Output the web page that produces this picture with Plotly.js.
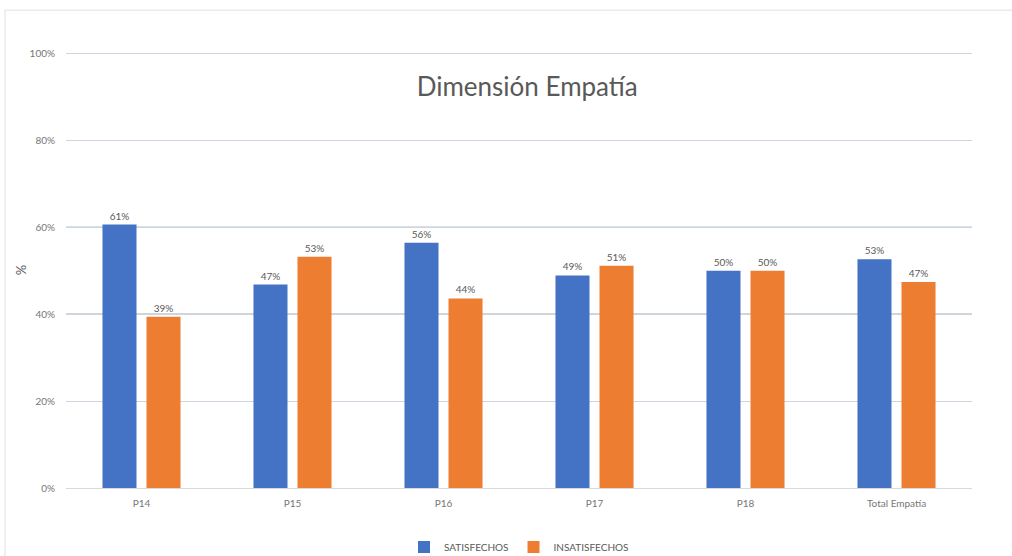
<!DOCTYPE html>
<html>
<head>
<meta charset="utf-8">
<script src="https://cdn.plot.ly/plotly-3.0.1.min.js"></script>
<style>html,body{margin:0;padding:0;background:#fff;}#chart{width:1012px;height:556px;}</style>
</head>
<body>
<div id="chart"></div>
<script>
const categories = ["P14", "P15", "P16", "P17", "P18", "Total Empatía"];
const satisfechos = [60.6, 46.8, 56.4, 48.9, 50.0, 52.6];
const insatisfechos = [39.4, 53.2, 43.6, 51.1, 50.0, 47.4];
const seriesNames = ["SATISFECHOS", "INSATISFECHOS"];
const yTickVals = [0, 20, 40, 60, 80, 100];
const yTickText = ["0%", "20%", "40%", "60%", "80%", "100%"];

const labelFont = {family: "Lato, 'Noto Sans', sans-serif", size: 10, color: "#595959"};
const tickFont = {family: "Lato, 'Noto Sans', sans-serif", size: 10, color: "#767676"};

const traces = [
  {type: "bar", name: seriesNames[0], x: categories, y: satisfechos,
   marker: {color: "#4472C4"}, texttemplate: "%{y:.0f}%", textposition: "outside",
   textfont: labelFont, cliponaxis: false, hoverinfo: "x+y"},
  {type: "bar", name: seriesNames[1], x: categories, y: insatisfechos,
   marker: {color: "#ED7D31"}, texttemplate: "%{y:.0f}%", textposition: "outside",
   textfont: labelFont, cliponaxis: false, hoverinfo: "x+y"}
];

const layout = {
  width: 1012, height: 556,
  margin: {l: 66, r: 40, t: 52, b: 68},
  paper_bgcolor: "#ffffff", plot_bgcolor: "#ffffff",
  font: {family: "Lato, 'Noto Sans', sans-serif", color: "#595959"},
  title: {text: "Dimensión Empatía", font: {family: "Lato, 'Open Sans', sans-serif", size: 26, color: "#595959"},
          x: 0.521, xanchor: "center", y: 1 - 87/556, yanchor: "middle", yref: "container"},
  barmode: "group", bargap: 0.417, bargroupgap: 0.227,
  xaxis: {tickfont: tickFont, showgrid: false, zeroline: false, showline: true, linecolor: "#d9d9d9",
          ticks: "", ticklabelstandoff: 6, automargin: false, color: "#767676"},
  yaxis: {range: [0, 100.3], tickmode: "array", tickvals: yTickVals, ticktext: yTickText, tickfont: tickFont,
          color: "#767676", gridcolor: "#cdd6e0", gridwidth: 1, zeroline: false, ticks: "", ticklabelstandoff: 10,
          automargin: false,
          title: {text: "%", font: {family: "Lato, sans-serif", size: 13, color: "#595959"}, standoff: 0}},
  legend: {orientation: "h", x: 0.5, xanchor: "center", yref: "container", y: 9/556, yanchor: "middle",
           font: {family: "Lato, 'Noto Sans', sans-serif", size: 10, color: "#595959"},
           itemwidth: 30, tracegroupgap: 0},
  shapes: [
    {type: "line", xref: "paper", yref: "y", x0: 0, x1: 1, y0: 40, y1: 40, line: {color: "#8c949c", width: 1}, layer: "below"},
    {type: "line", xref: "paper", yref: "y", x0: 0, x1: 1, y0: 60, y1: 60, line: {color: "#8ea2ba", width: 1}, layer: "below"},
    {type: "rect", xref: "paper", yref: "paper", x0: -0.0673, x1: 1.06, y0: -0.18, y1: 1.096,
     line: {color: "#e0e0e0", width: 1}, fillcolor: "rgba(0,0,0,0)", layer: "below"}
  ],
  showlegend: true
};

Plotly.newPlot("chart", traces, layout, {displayModeBar: false, staticPlot: true});
</script>
</body>
</html>
